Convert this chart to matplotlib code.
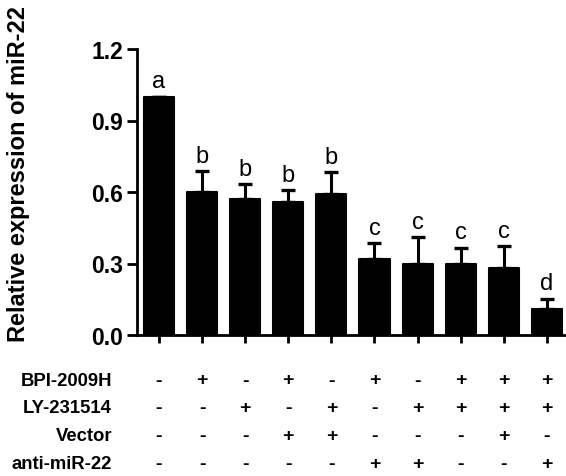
import numpy as np
import matplotlib.pyplot as plt
from matplotlib.transforms import blended_transform_factory

plt.rcParams['font.family'] = ['Liberation Sans', 'DejaVu Sans']

# data
values = [1.00, 0.60, 0.57, 0.56, 0.59, 0.32, 0.30, 0.30, 0.28, 0.11]
errors = [0.00, 0.087, 0.062, 0.048, 0.092, 0.065, 0.112, 0.066, 0.094, 0.043]
letters = ['a', 'b', 'b', 'b', 'b', 'c', 'c', 'c', 'c', 'd']
row_names = ['BPI-2009H', 'LY-231514', 'Vector', 'anti-miR-22']
bpi = ['-', '+', '-', '+', '-', '+', '-', '+', '+', '+']
ly = ['-', '-', '+', '-', '+', '-', '+', '+', '+', '+']
vector = ['-', '-', '-', '+', '+', '-', '-', '-', '+', '-']
anti = ['-', '-', '-', '-', '-', '+', '+', '-', '-', '+']
yticks = [0.0, 0.3, 0.6, 0.9, 1.2]

W, H = 566, 477
fig = plt.figure(figsize=(W / 100, H / 100), dpi=100)
ax = fig.add_axes([137 / W, 1 - 336 / H, (565 - 137) / W, (336 - 50) / H])

x = np.arange(len(values))
ax.bar(x, values, width=0.7, color='black', edgecolor='black',
       linewidth=1.5, joinstyle='round', zorder=2)
ax.errorbar(x, values, yerr=[np.zeros(len(errors)), errors], fmt='none',
            ecolor='black', elinewidth=2.2, capsize=4.8, capthick=2.4, zorder=1)

for xi, v, e, lab in zip(x, values, errors, letters):
    ax.text(xi, v + e + 0.018, lab, ha='center', va='bottom', fontsize=17)

ax.set_xlim(-0.51, 9.42)
ax.set_ylim(0, 1.2)
ax.set_yticks(yticks)
ax.set_yticklabels([f'{t:.1f}' for t in yticks], fontsize=16.5, fontweight='bold')
ax.set_xticks(x)
ax.set_xticklabels([])
ax.tick_params(axis='y', direction='out', length=7, width=2, pad=3)
ax.tick_params(axis='x', direction='out', length=6, width=2)
for s in ['top', 'right']:
    ax.spines[s].set_visible(False)
for s in ['left', 'bottom']:
    ax.spines[s].set_linewidth(2)
ax.set_ylabel('Relative expression of miR-22', fontsize=17, fontweight='bold')
ax.yaxis.set_label_coords(-0.25, 0.565)

# treatment table below the axis
trans = blended_transform_factory(ax.transData, fig.transFigure)
rows = [bpi, ly, vector, anti]
row_y = [381, 409, 437, 465]
for name, signs, py in zip(row_names, rows, row_y):
    yf = 1 - py / H
    fig.text(112 / W, yf, name, ha='right', va='center', fontsize=13.3, fontweight='bold')
    for xi, s in zip(x, signs):
        ax.text(xi, yf, s, transform=trans, ha='center', va='center',
                fontsize=14, fontweight='bold')

fig.savefig('out.png', dpi=100)
